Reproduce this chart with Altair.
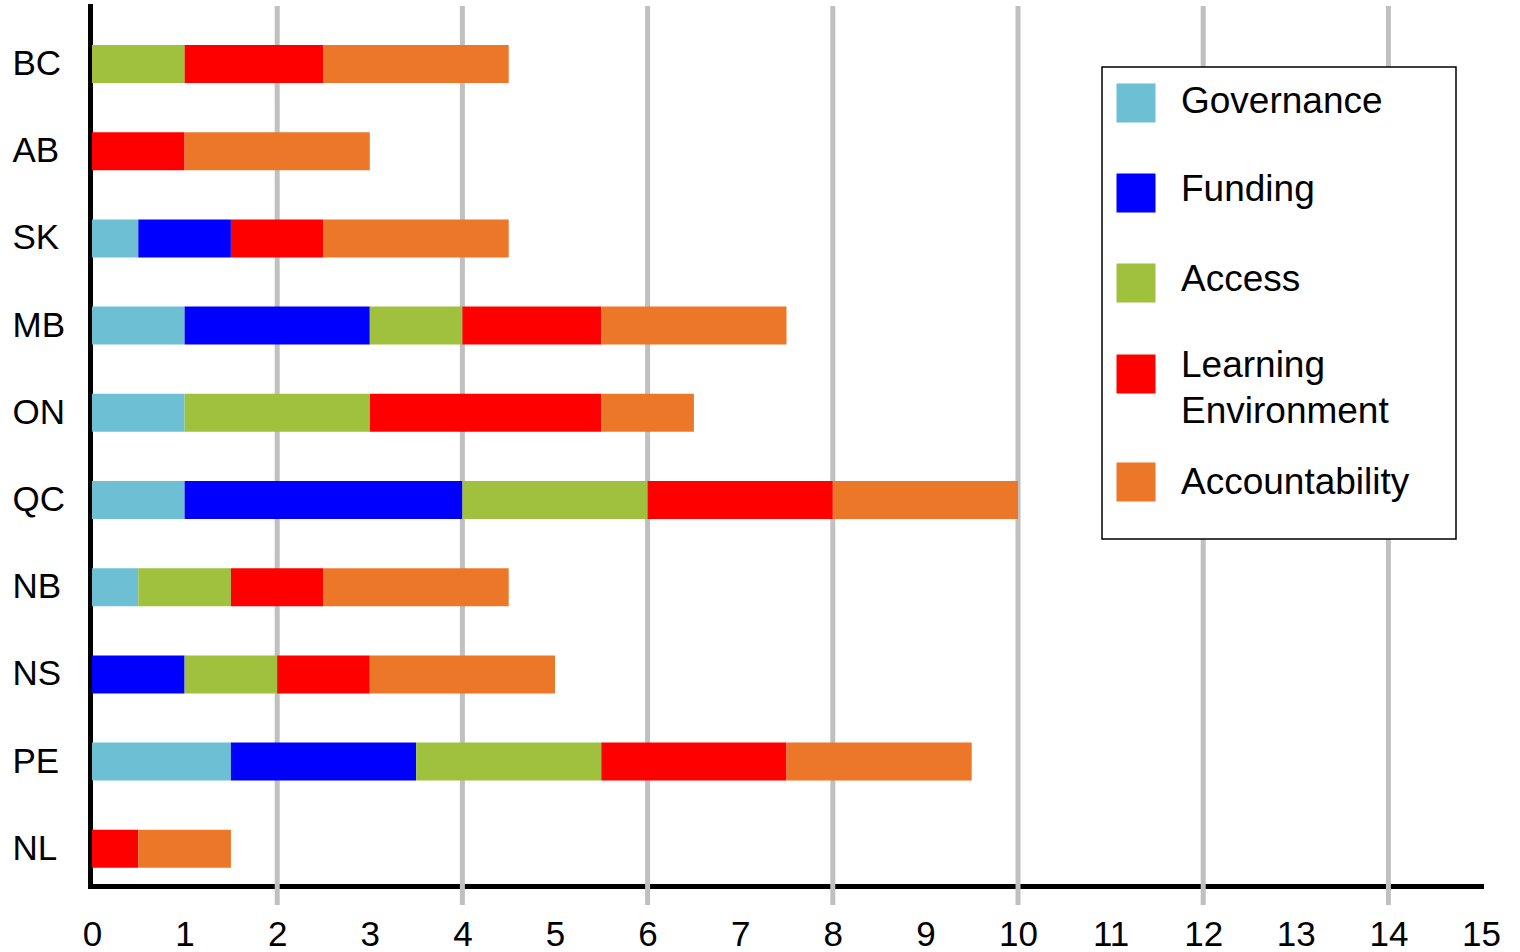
import altair as alt
import pandas as pd

# ---- data -------------------------------------------------------------
provinces = ["BC", "AB", "SK", "MB", "ON", "QC", "NB", "NS", "PE", "NL"]
components = ["Governance", "Funding", "Access", "Learning Environment", "Accountability"]
component_colors = ["#6DBFD4", "#0000FF", "#9FC13E", "#FF0000", "#ED7728"]

governance = [0, 0, 0.5, 1, 1, 1, 0.5, 0, 1.5, 0]
funding = [0, 0, 1, 2, 0, 3, 0, 1, 2, 0]
access = [1, 0, 0, 1, 2, 2, 1, 1, 2, 0]
learning_environment = [1.5, 1, 1, 1.5, 2.5, 2, 1, 1, 2, 0.5]
accountability = [2, 2, 2, 2, 1, 2, 2, 2, 2, 1]

x_ticks = list(range(0, 16))
grid_values = [2, 4, 6, 8, 10, 12, 14]

legend_lines = ["Governance", "Funding", "Access", "Learning", "Environment", "Accountability"]

# ---- long table for stacking ---------------------------------------------
series = [governance, funding, access, learning_environment, accountability]
rows = []
for k, (name, vals) in enumerate(zip(components, series)):
    for prov, v in zip(provinces, vals):
        if v > 0:
            rows.append({"province": prov, "component": name, "value": v, "order": k})
df = pd.DataFrame(rows)

# ---- layout ---------------------------------------------------------------
W, H = 1389, 880
FONT = "Liberation Sans"

x_scale = alt.Scale(domain=[0, 15], nice=False, zero=True)
y_scale = alt.Scale(domain=provinces, paddingInner=0.564, paddingOuter=0.328, align=0.682)
color_scale = alt.Scale(domain=components, range=component_colors)

x_axis = alt.Axis(
    values=x_ticks,
    title=None,
    grid=False,
    ticks=False,
    labelPadding=31,
    labelFontSize=35,
    labelFont=FONT,
    labelColor="black",
    labelFlush=False,
    labelOverlap=False,
    domainColor="black",
    domainWidth=5,
    domainCap="square",
)

grid = alt.Chart(pd.DataFrame({"g": grid_values})).mark_rule(
    color="#C0C0C0", strokeWidth=5
).encode(
    x=alt.X("g:Q", scale=x_scale, axis=x_axis),
    y=alt.value(0),
    y2=alt.value(H + 19),
)

bars = alt.Chart(df).mark_bar().encode(
    x=alt.X("value:Q", stack="zero", scale=x_scale, axis=x_axis),
    y=alt.Y(
        "province:N",
        sort=provinces,
        scale=y_scale,
        axis=alt.Axis(
            title=None,
            grid=False,
            ticks=False,
            offset=2,
            labelAlign="left",
            labelBaseline="middle",
            labelPadding=78,
            labelFontSize=35,
            labelFont=FONT,
            labelColor="black",
            domainColor="black",
            domainWidth=5,
            domainCap="square",
        ),
    ),
    color=alt.Color("component:N", scale=color_scale, legend=None),
    order=alt.Order("order:Q"),
)

# ---- hand-built legend box ------------------------------------------------
legend_box = alt.Chart(pd.DataFrame({"k": [0]})).mark_rect(
    fill="white", stroke="black", strokeWidth=1.5
).encode(
    x=alt.value(1010), x2=alt.value(1364), y=alt.value(61), y2=alt.value(533)
)

swatch_rows = [97, 187, 277, 368, 476]
swatches = alt.Chart(
    pd.DataFrame({"component": components, "py": swatch_rows})
).mark_square(size=1521, opacity=1).encode(
    x=alt.value(1044),
    y=alt.Y("py:Q", scale=None, axis=None),
    color=alt.Color("component:N", scale=color_scale, legend=None),
)

text_rows = [96, 184, 274, 359.5, 406, 476.5]
labels = alt.Chart(
    pd.DataFrame({"label": legend_lines, "py": text_rows})
).mark_text(
    align="left", baseline="middle", fontSize=37, font=FONT, color="black"
).encode(
    x=alt.value(1089),
    y=alt.Y("py:Q", scale=None, axis=None),
    text="label:N",
)

chart = (
    alt.layer(grid, bars, legend_box, swatches, labels)
    .properties(
        width=W,
        height=H,
        autosize=alt.AutoSizeParams(type="none"),
        padding={"left": 92, "top": 6, "right": 39, "bottom": 66},
        background="white",
    )
    .configure_view(stroke=None)
)

chart.save("out.html", embed_options={"renderer": "svg", "actions": False})
